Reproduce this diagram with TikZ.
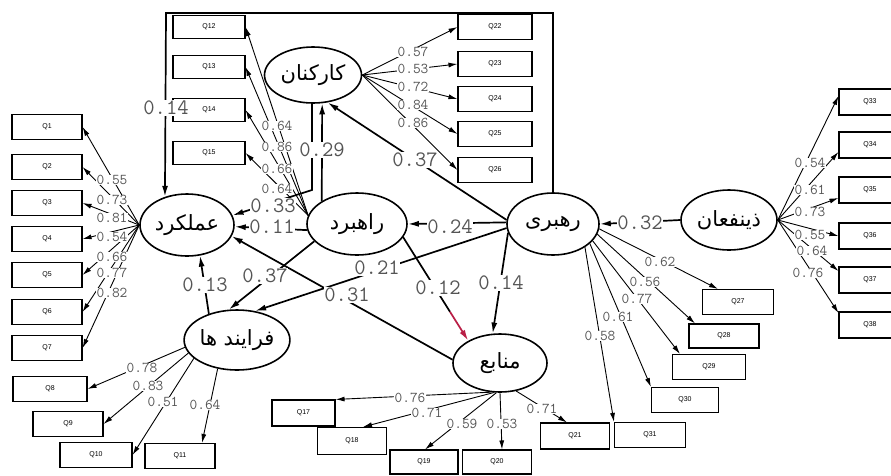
\documentclass[tikz,border=0pt]{standalone}
\usepackage{fontspec}
\usetikzlibrary{arrows.meta,calc,shapes.geometric}
\TeXXeTstate=1
\newfontfamily\farsi[Script=Arabic]{DejaVu Sans}
\newfontfamily\boxfont{Liberation Sans}
\definecolor{coefgray}{RGB}{85,85,85}
\definecolor{pathred}{RGB}{185,30,70}

\begin{document}
\begin{tikzpicture}[x=1pt,y=-1pt,
  latent/.style={ellipse, draw, line width=1.6pt, inner sep=0pt,
    font=\farsi\fontsize{21}{21}\selectfont},
  item/.style={draw, line width=1.1pt, minimum width=70pt, minimum height=25pt,
    inner sep=0pt, font=\boxfont\fontsize{7}{7}\selectfont},
  load/.style={line width=0.9pt, -{Latex[length=9pt,width=5pt]}},
  effect/.style={line width=1.7pt, -{Latex[length=11pt,width=6pt]}},
  small/.style={fill=white, inner sep=0.6pt, text=coefgray,
    font=\ttfamily\fontsize{15}{15}\selectfont},
  big/.style={fill=white, inner sep=0.8pt, text=coefgray,
    font=\ttfamily\fontsize{22}{22}\selectfont},
]
\useasboundingbox (0,0) rectangle (891,475);
\fill[white] (0,0) rectangle (891,475);
\clip (0,0) rectangle (891,475);

% latent constructs
\node[latent, minimum width=94pt,  minimum height=62pt] (perf)  at (187,225) {\beginR عملکرد\endR};
\node[latent, minimum width=100pt, minimum height=62pt] (strat) at (357,224) {\beginR راهبرد\endR};
\node[latent, minimum width=92pt,  minimum height=62pt] (ldr)   at (553,224) {\beginR رهبری\endR};
\node[latent, minimum width=96pt,  minimum height=60pt] (stk)   at (729,220) {\beginR ذینفعان\endR};
\node[latent, minimum width=97pt,  minimum height=56pt] (staff) at (313,75)  {\beginR کارکنان\endR};
\node[latent, minimum width=92pt,  minimum height=60pt] (proc)  at (237,340) {\beginR فرایند ها\endR};
\node[latent, minimum width=94pt,  minimum height=58pt] (res)   at (500,363) {\beginR منابع\endR};

% observed items
\foreach \n/\y in {1/127,2/167,3/203,4/239,5/275,6/312,7/348}
  \node[item] (q\n) at (47,\y) {Q\n};
\node[item, minimum width=74pt] (q8)  at (50,389)  {Q8};
\node[item] (q9)  at (68,424)  {Q9};
\node[item, minimum width=72pt] (q10) at (96,455)  {Q10};
\node[item] (q11) at (180,456) {Q11};
\foreach \n/\y in {12/27,13/67,14/110,15/153}
  \node[item, minimum width=72pt, minimum height=23pt] (q\n) at (209,\y) {Q\n};
\node[item, minimum width=63pt, minimum height=26pt] (q17) at (303.5,413) {Q17};
\node[item, minimum width=69pt, minimum height=27pt] (q18) at (352,441) {Q18};
\node[item, minimum width=68pt, minimum height=24pt] (q19) at (424,462) {Q19};
\node[item, minimum width=69pt, minimum height=24pt] (q20) at (497,462) {Q20};
\node[item, minimum width=69pt, minimum height=26pt] (q21) at (575,436) {Q21};
\foreach \n/\y in {22/27,23/64,24/99,25/134,26/170}
  \node[item, minimum width=74pt] (q\n) at (495,\y) {Q\n};
\node[item, minimum width=71pt] (q27) at (738,302) {Q27};
\node[item, minimum width=70pt, minimum height=24pt] (q28) at (724,336) {Q28};
\node[item, minimum width=73pt] (q29) at (709,367) {Q29};
\node[item, minimum width=67pt] (q30) at (685,400) {Q30};
\node[item, minimum width=71pt] (q31) at (650,435) {Q31};
\foreach \n/\y in {33/102,34/145,35/190,36/236,37/280,38/325}
  \node[item, minimum width=62pt, minimum height=26pt] (q\n) at (870,\y) {Q\n};

% measurement paths
\foreach \n in {1,...,7} \draw[load] (perf.west) -- (q\n.east);
\draw[load] (proc.188) -- (q8.east);
\draw[load] (proc.195) -- (q9.east);
\draw[load] (proc.203) -- (q10.east);
\draw[load] (proc.236) -- ([xshift=22pt]q11.north);
\foreach \n in {12,...,15} \draw[load] (strat.170) -- (q\n.east);
\foreach \n in {22,...,26} \draw[load] (staff.east) -- (q\n.west);
\draw[load] (res.252) -- (q17.north east);
\draw[load] (res.258) -- ([xshift=11pt]q18.north);
\draw[load] (res.263) -- ([xshift=1pt]q19.north);
\draw[load] (res.270) -- ([xshift=5pt]q20.north);
\draw[load] (res.300) -- ([xshift=-8pt]q21.north);
\draw[load] (ldr.-6)  -- ([xshift=-20pt]q27.north);
\draw[load] (ldr.-13) -- ([xshift=-29pt]q28.north);
\draw[load] (ldr.-23) -- ([xshift=-29pt]q29.north);
\draw[load] (ldr.-28) -- (q30.north west);
\draw[load] (ldr.-36) -- (q31.north west);
\draw[load] (stk.east) -- ([yshift=6pt]q33.west);
\draw[load] (stk.east) -- ([yshift=-7pt]q34.west);
\draw[load] (stk.east) -- ([yshift=-8pt]q35.west);
\draw[load] (stk.east) -- (q36.west);
\draw[load] (stk.east) -- ([yshift=9pt]q37.west);
\draw[load] (stk.east) -- ([yshift=12pt]q38.west);

% structural paths
\coordinate (frameR) at (553,13);
\coordinate (frameL) at (166,13);
\coordinate (bend)   at (312,190);
\draw[effect] (ldr.north) -- (frameR) -- (frameL) -- (perf.128);
\draw[effect] (strat.147.7) -- (staff.288.1);
\draw[effect] (staff.268) -- (bend) -- (perf.12);
\draw[effect] (strat.187) -- (perf.358);
\draw[effect] (ldr.175) -- (staff.298);
\draw[effect] (ldr.178) -- (strat.east);
\draw[effect] (stk.west) -- (ldr.east);
\draw[effect] (ldr.185) -- (proc.58);
\draw[effect] (strat.202) -- (proc.105);
\draw[effect] (proc.137) -- (perf.293);
\draw[effect] (res.176) -- (perf.346);
\draw[effect] (ldr.191) -- (res.104);
\coordinate (redstart) at ($(strat.344)!0.72!(res.145)$);
\draw[line width=1.7pt] (strat.344) -- (redstart);
\draw[effect, draw=pathred, fill=pathred] (redstart) -- (res.145);

% loading coefficients
\foreach \n/\y/\v in {1/180/0.55,2/200/0.73,3/218/0.81,4/237/0.54,5/257/0.66,6/273/0.77,7/293/0.82}
  \node[small] (c\n) at (112,\y) {\v};
\node[small] (c8)  at (142,368) {0.78};
\node[small] (c9)  at (148,386) {0.83};
\node[small] (c10) at (163,402) {0.51};
\node[small] (c11) at (205,405) {0.64};
\foreach \n/\y/\v in {12/126/0.64,13/147/0.86,14/169/0.66,15/189/0.64}
  \node[small] (c\n) at (277,\y) {\v};
\node[small] (c17) at (410,398) {0.76};
\node[small] (c18) at (427,413) {0.71};
\node[small] (c19) at (462,424) {0.59};
\node[small] (c20) at (502,424) {0.53};
\node[small] (c21) at (542,409) {0.71};
\foreach \n/\y/\v in {22/52/0.57,23/69/0.53,24/87/0.72,25/105/0.84,26/123/0.86}
  \node[small] (c\n) at (413,\y) {\v};
\node[small] (c27) at (660,262) {0.62};
\node[small] (c28) at (645,282) {0.56};
\node[small] (c29) at (637,299) {0.77};
\node[small] (c30) at (618,317) {0.61};
\node[small] (c31) at (600,336) {0.58};
\node[small] (c33) at (810,163) {0.54};
\node[small] (c34) at (810,190) {0.61};
\node[small] (c35) at (810,212) {0.73};
\node[small] (c36) at (810,235) {0.55};
\node[small] (c37) at (812,251) {0.64};
\node[small] (c38) at (808,273) {0.76};

% path coefficients
\node[big] (b14)  at (166,108) {0.14};
\node[big] (b29)  at (322,150) {0.29};
\node[big] (b33)  at (273,206) {0.33};
\node[big] (b11)  at (272,227) {0.11};
\node[big] (b37a) at (415,160) {0.37};
\node[big] (b24)  at (450,227) {0.24};
\node[big] (b32)  at (640,223) {0.32};
\node[big] (b21)  at (377,268) {0.21};
\node[big] (b37b) at (265,276) {0.37};
\node[big] (b13)  at (205,285) {0.13};
\node[big] (b31)  at (347,295) {0.31};
\node[big] (b12)  at (438,288) {0.12};
\node[big] (b14b) at (501,283) {0.14};
\end{tikzpicture}
\end{document}
